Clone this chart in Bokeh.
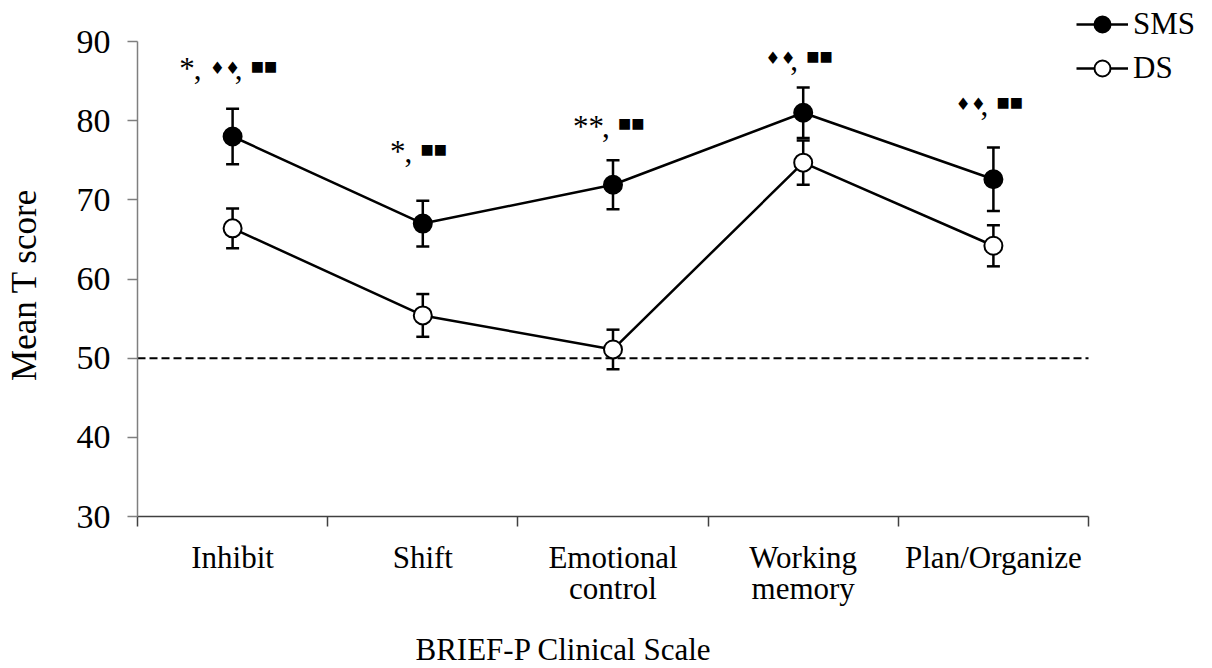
from bokeh.plotting import figure
from bokeh.models import (ColumnDataSource, Whisker, TeeHead, Range1d,
                          FixedTicker, Legend, LegendItem, Title)
from bokeh.embed import file_html
from bokeh.resources import INLINE
from bokeh.core.properties import value

# ---------------- data ----------------
categories = ["Inhibit", "Shift", "Emotional\ncontrol", "Working\nmemory", "Plan/Organize"]
sms_mean = [78.0, 67.0, 71.9, 81.0, 72.6]
sms_err = [3.5, 2.9, 3.1, 3.2, 4.0]
ds_mean = [66.4, 55.4, 51.1, 74.7, 64.2]
ds_err = [2.5, 2.7, 2.5, 2.8, 2.6]
sig_labels = ["*, \u2666\u2666, \u25a0\u25a0", "*, \u25a0\u25a0", "**, \u25a0\u25a0",
              "\u2666\u2666, \u25a0\u25a0", "\u2666\u2666, \u25a0\u25a0"]
sig_label_y = [87.6, 77.1, 80.3, 88.8, 83.0]
y_ticks = [30, 40, 50, 60, 70, 80, 90]
reference_t = 50
y_title = "Mean T score"
x_title = "BRIEF-P Clinical Scale"

SERIF = "Liberation Serif"
FS = "31px"

# ---------------- layout (pixels) ----------------
W, H = 1204, 668
LEFT, BOTTOM = 137, 152
AXIS_W, AXIS_H = 951, 475          # drawn axis lengths in px
frame_w, frame_h = W - LEFT, H - BOTTOM
n = len(categories)
x_end = n * frame_w / AXIS_W
y_end = y_ticks[0] + (y_ticks[-1] - y_ticks[0]) * frame_h / AXIS_H

xs = [i + 0.5 for i in range(n)]

src = ColumnDataSource(dict(
    x=xs, sms=sms_mean, ds=ds_mean,
    sms_up=[m + e for m, e in zip(sms_mean, sms_err)],
    sms_lo=[m - e for m, e in zip(sms_mean, sms_err)],
    ds_up=[m + e for m, e in zip(ds_mean, ds_err)],
    ds_lo=[m - e for m, e in zip(ds_mean, ds_err)],
))

p = figure(width=W, height=H, x_range=Range1d(0, x_end),
           y_range=Range1d(y_ticks[0], y_end),
           output_backend="svg", toolbar_location=None,
           min_border_left=LEFT, min_border_right=0,
           min_border_top=0, min_border_bottom=BOTTOM)
p.outline_line_color = None
p.grid.visible = False
p.background_fill_color = "white"
p.border_fill_color = "white"

# reference line at T = 50 across the category extent
p.line([0, n], [reference_t, reference_t], line_color="black",
       line_width=2, line_dash="8 4")

# error bars
for up, lo in (("sms_up", "sms_lo"), ("ds_up", "ds_lo")):
    w = Whisker(base="x", upper=up, lower=lo, source=src, line_width=2.5,
                line_color="black",
                upper_head=TeeHead(size=13, line_width=2.5, line_color="black"),
                lower_head=TeeHead(size=13, line_width=2.5, line_color="black"))
    p.add_layout(w)

sms_line = p.line("x", "sms", source=src, line_color="black", line_width=2.5)
ds_line = p.line("x", "ds", source=src, line_color="black", line_width=2.5)
sms_pts = p.scatter("x", "sms", source=src, size=18, fill_color="black",
                    line_color="black", line_width=2)
ds_pts = p.scatter("x", "ds", source=src, size=18, fill_color="white",
                   line_color="black", line_width=2)

# significance annotations
serif_rows = dict(x=[], y=[], text=[], xo=[])
dia_rows = dict(x=[], y=[], text=[], xo=[])
sq_rows = dict(x=[], y=[], text=[], xo=[])
for xc, lab, yl in zip(xs, sig_labels, sig_label_y):
    toks = lab.split(", ")
    widths = []
    for t in toks:
        if "*" in t:
            widths.append(14.5 * len(t))
        elif "\u2666" in t:
            widths.append(25)
        else:
            widths.append(21)
    sep = 16
    total = sum(widths) + sep * (len(toks) - 1)
    cur = -total / 2 - 7
    for k, (t, wd) in enumerate(zip(toks, widths)):
        if "*" in t:
            target = serif_rows
        elif "\u2666" in t:
            target = dia_rows
        else:
            target = sq_rows
        target["x"].append(xc); target["y"].append(yl)
        target["text"].append(t); target["xo"].append(cur)
        cur += wd
        if k < len(toks) - 1:
            serif_rows["x"].append(xc); serif_rows["y"].append(yl)
            serif_rows["text"].append(","); serif_rows["xo"].append(cur)
            cur += sep

p.text("x", "y", text="text", source=ColumnDataSource(serif_rows), x_offset="xo",
       y_offset=8, text_font=value(SERIF), text_font_size=FS,
       text_align="left", text_baseline="alphabetic", text_color="black")
p.text("x", "y", text="text", source=ColumnDataSource(dia_rows), x_offset="xo",
       y_offset=7, text_font=value("DejaVu Sans"), text_font_size="17px",
       text_align="left", text_baseline="alphabetic", text_color="black")
p.text("x", "y", text="text", source=ColumnDataSource(sq_rows), x_offset="xo",
       y_offset=5, text_font=value("DejaVu Sans"), text_font_size="14px",
       text_align="left", text_baseline="alphabetic", text_color="black")

# y axis
ya = p.yaxis[0]
ya.ticker = FixedTicker(ticks=y_ticks)
ya.bounds = (y_ticks[0], y_ticks[-1])
ya.axis_label = y_title + "\u00a0" * 6
ya.axis_line_color = "#7f7f7f"
ya.axis_line_width = 1.5
ya.major_tick_line_color = "#7f7f7f"
ya.major_tick_line_width = 1.5
ya.major_tick_out = 10
ya.major_tick_in = 0
ya.minor_tick_out = 0
ya.minor_tick_in = 0
ya.major_label_standoff = 17
ya.axis_label_standoff = 30
ya.major_label_text_font_size = "34px"
ya.axis_label_text_font_size = "35px"

# x axis
xa = p.xaxis[0]
xa.ticker = FixedTicker(ticks=xs, minor_ticks=list(range(n + 1)))
xa.bounds = (0, n)
xa.major_label_overrides = {x: c for x, c in zip(xs, categories)}
xa.axis_line_color = "#404040"
xa.axis_line_width = 1.5
xa.major_tick_out = 0
xa.major_tick_in = 0
xa.major_tick_line_color = None
xa.minor_tick_out = 10
xa.minor_tick_in = 0
xa.minor_tick_line_color = "#404040"
xa.minor_tick_line_width = 1.5
xa.major_label_standoff = 13
xa.major_label_text_line_height = 0.9
xa.major_label_text_font_size = FS
# blank spacer label: pushes the title panel below a little further down
xa.axis_label = "\u00a0"
xa.axis_label_standoff = 5
xa.axis_label_text_font_size = "10px"

for ax in (xa, ya):
    ax.major_label_text_font = SERIF
    ax.major_label_text_color = "black"
    ax.axis_label_text_font = SERIF
    ax.axis_label_text_font_style = "normal"
    ax.axis_label_text_color = "black"

p.add_layout(Title(text=x_title, align="left", offset=278, standoff=2,
                   text_font=SERIF, text_font_size=FS, text_font_style="normal",
                   text_color="black"), "below")

legend = Legend(items=[LegendItem(label="SMS", renderers=[sms_line, sms_pts]),
                       LegendItem(label="DS", renderers=[ds_line, ds_pts])],
                location=(939, 428), orientation="vertical",
                glyph_width=52, glyph_height=40, label_height=40, spacing=4,
                label_standoff=5, padding=0, margin=0,
                label_text_font=SERIF, label_text_font_size=FS,
                label_text_color="black",
                border_line_color=None, background_fill_alpha=0)
p.add_layout(legend, "center")

open("out.html", "w").write(file_html(p, INLINE))
